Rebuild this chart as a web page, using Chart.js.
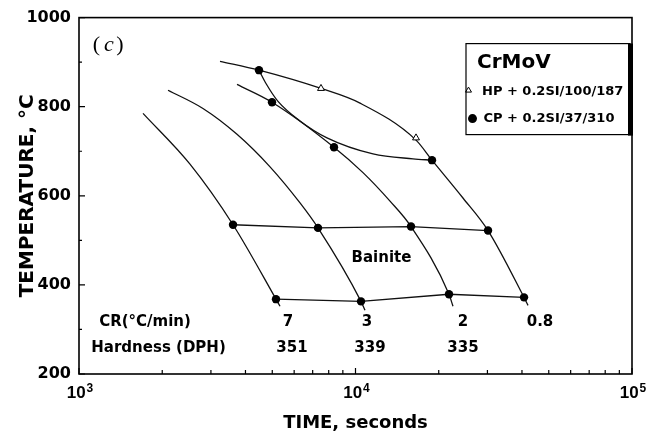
<!DOCTYPE html>
<html>
<head>
<meta charset="utf-8">
<script src="https://cdn.jsdelivr.net/npm/chart.js@4"></script>
<style>
  body { margin: 0; background: #fff; }
  canvas { display: block; }
</style>
</head>
<body>
<canvas id="cct" width="651" height="434"></canvas>
<script>
// CCT diagram for CrMoV: time (s, log) vs temperature (°C)

// cooling curves, [time s, temperature °C]
const cr7 = [[1704, 785], [2520, 671], [3606, 535], [5158, 368], [5333, 352]];
const cr3 = [[2099, 837], [2808, 796], [3728, 738], [4908, 665], [6300, 584], [7317, 528], [10469, 363], [10823, 343]];
const cr2 = [[3728, 850], [4989, 810], [8360, 709], [10644, 652], [13330, 588], [15876, 531], [21785, 379], [22521, 352]];
const cr08 = [[3236, 902], [4477, 882], [7502, 841], [10382, 808], [16552, 725], [18910, 680], [24471, 595], [30150, 522], [40690, 372], [42070, 354]];

// ferrite boundary and bainite start / finish lines
const ferrite = [[4477, 882], [4746, 852], [5245, 812], [6300, 768], [7887, 730], [11569, 694], [16143, 683], [18910, 680]];
const bainiteStart = [[3606, 535], [7317, 528], [15876, 531], [30150, 522]];
const bainiteEnd = [[5158, 368], [10469, 363], [21785, 379], [40690, 372]];

// measured transformation points
const cpPoints = [[4477, 882], [4989, 810], [8360, 709], [18910, 680], [3606, 535], [7317, 528],
                  [15876, 531], [30150, 522], [5158, 368], [10469, 363], [21785, 379], [40690, 372]];
const hpPoints = [[7502, 841], [16552, 730]];

// cooling rate and hardness rows under the curves
const rates = ['7', '3', '2', '0.8'];
const hardness = ['351', '339', '335'];
const rateTimes = [5700, 11006, 24471, 46480];
const hardTimes = [5891, 11282, 24471];

// axes
const decades = [3, 4, 5];
const tempLabels = [200, 400, 600, 800, 1000];

const timeTicks = [];
for (const e of [3, 4]) {
    for (let m = 1; m <= 9; m++) timeTicks.push(m * 10 ** e);
}
timeTicks.push(1e5);
const tempTicks = [];
for (let t = 200; t <= 1000; t += 100) tempTicks.push(t);

const bold = (size, family) => `bold ${size}px "${family || 'DejaVu Sans'}"`;

const toXY = pts => pts.map(([x, y]) => ({x, y}));
const curve = (pts, smooth) => ({
    data: toXY(pts),
    borderColor: '#111',
    borderWidth: 1.3,
    pointRadius: 0,
    cubicInterpolationMode: smooth ? 'monotone' : 'default',
    tension: 0,
    fill: false
});

const decor = {
    id: 'decor',
    afterDraw(chart) {
        const {ctx, chartArea: a, scales: {x, y}} = chart;
        ctx.save();
        ctx.strokeStyle = '#000';
        ctx.fillStyle = '#000';

        // frame
        ctx.lineWidth = 1.6;
        ctx.strokeRect(a.left, a.top, a.right - a.left, a.bottom - a.top);

        // inward tick marks
        ctx.lineWidth = 1.2;
        ctx.beginPath();
        timeTicks.forEach(v => {
            const px = x.getPixelForValue(v);
            const len = decades.some(e => 10 ** e === v) ? 6 : 4;
            ctx.moveTo(px, a.bottom);
            ctx.lineTo(px, a.bottom - len);
        });
        tempTicks.forEach(v => {
            const py = y.getPixelForValue(v);
            const len = tempLabels.includes(v) ? 6 : 3;
            ctx.moveTo(a.left, py);
            ctx.lineTo(a.left + len, py);
        });
        ctx.stroke();

        // decade labels 10^n
        ctx.textAlign = 'left';
        ctx.textBaseline = 'alphabetic';
        decades.forEach(e => {
            const px = x.getPixelForValue(10 ** e);
            ctx.font = bold(17, 'Liberation Sans');
            const wBase = ctx.measureText('10').width;
            ctx.font = bold(12, 'Liberation Sans');
            const wExp = ctx.measureText(String(e)).width;
            const left = px + 1 - (wBase + wExp + 1) / 2;
            ctx.font = bold(17, 'Liberation Sans');
            ctx.fillText('10', left, a.bottom + 24);
            ctx.font = bold(12, 'Liberation Sans');
            ctx.fillText(String(e), left + wBase + 1, a.bottom + 18);
        });

        // panel tag (c)
        ctx.textAlign = 'center';
        ctx.font = '22px "Liberation Serif"';
        ctx.fillText('(', a.left + 17.5, a.top + 33.5);
        ctx.fillText(')', a.left + 41, a.top + 33.5);
        ctx.font = 'italic 22px "Liberation Serif"';
        ctx.fillText('c', a.left + 30, a.top + 33.5);

        // key box
        const bx = a.right - 166, by = a.top + 26, bw = 164, bh = 91;
        ctx.lineWidth = 1.2;
        ctx.strokeRect(bx, by, bw, bh);
        ctx.fillRect(bx + bw - 2, by, 5, bh + 1);
        ctx.textAlign = 'left';
        ctx.font = bold(20);
        ctx.fillText('CrMoV', bx + 11, by + 24);
        ctx.textBaseline = 'middle';
        ctx.font = bold(13);
        ctx.fillText('HP + 0.2SI/100/187', bx + 16, by + 48);
        ctx.fillText('CP + 0.2SI/37/310', bx + 17.5, by + 75);
        ctx.lineWidth = 1;
        ctx.beginPath();
        ctx.moveTo(bx + 2.5, by + 43.5);
        ctx.lineTo(bx + 5.5, by + 48.5);
        ctx.lineTo(bx - 0.5, by + 48.5);
        ctx.closePath();
        ctx.stroke();
        ctx.beginPath();
        ctx.arc(bx + 6.5, by + 75, 4.5, 0, Math.PI * 2);
        ctx.fill();

        // region and row labels
        ctx.textAlign = 'center';
        ctx.font = bold(15);
        ctx.fillText('Bainite', x.getPixelForValue(12417), y.getPixelForValue(461));
        ctx.fillText('CR(°C/min)', x.getPixelForValue(1733), y.getPixelForValue(316));
        ctx.fillText('Hardness (DPH)', x.getPixelForValue(1939), y.getPixelForValue(258));
        rates.forEach((r, i) => {
            ctx.fillText(r, x.getPixelForValue(rateTimes[i]), y.getPixelForValue(316));
        });
        hardness.forEach((h, i) => {
            ctx.fillText(h, x.getPixelForValue(hardTimes[i]), y.getPixelForValue(258));
        });

        ctx.restore();
    }
};

new Chart(document.getElementById('cct'), {
    type: 'line',
    data: {
        datasets: [
            {
                data: toXY(hpPoints),
                showLine: false,
                pointStyle: 'triangle',
                pointRadius: 4,
                pointBackgroundColor: '#fff',
                pointBorderColor: '#000',
                pointBorderWidth: 1
            },
            {
                data: toXY(cpPoints),
                showLine: false,
                pointRadius: 4.2,
                pointBackgroundColor: '#000',
                pointBorderColor: '#000',
                pointBorderWidth: 0
            },
            curve(cr7, true),
            curve(cr3, true),
            curve(cr2, true),
            curve(cr08, true),
            curve(ferrite, true),
            curve(bainiteStart, false),
            curve(bainiteEnd, false)
        ]
    },
    options: {
        responsive: false,
        animation: false,
        devicePixelRatio: 1,
        layout: {padding: {left: 0, right: 19, top: 16, bottom: 0}},
        plugins: {
            legend: {display: false},
            tooltip: {enabled: false}
        },
        scales: {
            x: {
                type: 'logarithmic',
                min: 1e3,
                max: 1e5,
                afterBuildTicks: s => { s.ticks = timeTicks.map(v => ({value: v})); },
                afterFit: s => { s.height = 60; },
                grid: {display: false, drawTicks: false},
                border: {display: false},
                ticks: {callback: () => '', autoSkip: false},
                title: {
                    display: true,
                    text: 'TIME, seconds',
                    color: '#000',
                    font: {family: 'DejaVu Sans', weight: 'bold', size: 18},
                    padding: {top: 0, bottom: 0}
                }
            },
            y: {
                type: 'linear',
                min: 200,
                max: 1000,
                afterBuildTicks: s => { s.ticks = tempTicks.map(v => ({value: v})); },
                afterFit: s => { s.width = 79; },
                grid: {display: false, drawTicks: false},
                border: {display: false},
                ticks: {
                    callback: v => tempLabels.includes(v) ? String(v) : '',
                    autoSkip: false,
                    padding: 8,
                    color: '#000',
                    font: {family: 'DejaVu Sans', weight: 'bold', size: 16}
                },
                title: {
                    display: true,
                    text: 'TEMPERATURE, °C',
                    color: '#000',
                    font: {family: 'DejaVu Sans', weight: 'bold', size: 20},
                    padding: {top: 16, bottom: 0}
                }
            }
        }
    },
    plugins: [decor]
});
</script>
</body>
</html>
